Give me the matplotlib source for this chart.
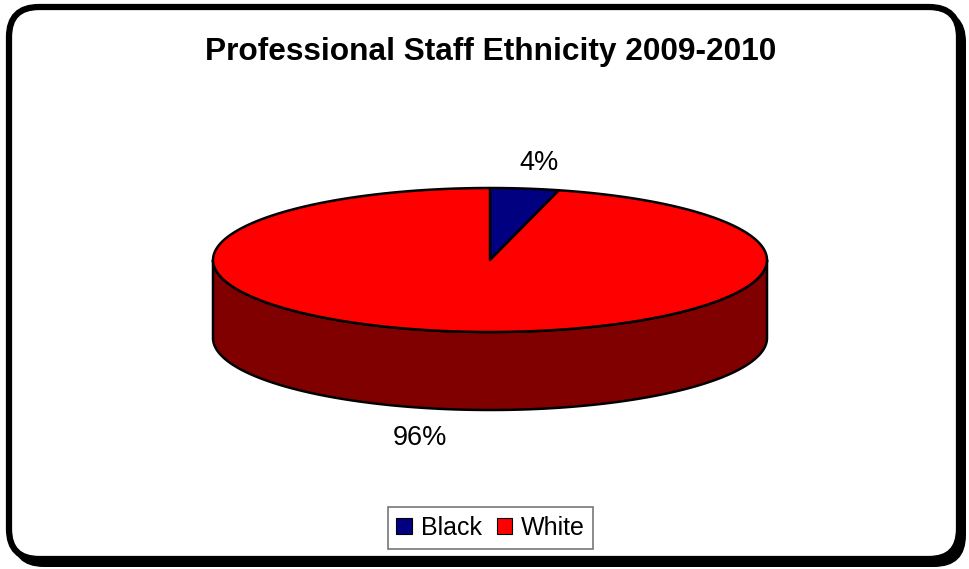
import numpy as np
import matplotlib
matplotlib.use('Agg')
import matplotlib.pyplot as plt
from matplotlib.patches import Polygon, FancyBboxPatch, Patch

plt.rcParams['font.family'] = ['Liberation Sans', 'DejaVu Sans']

# データ
categories = ['Black', 'White']
values = [4, 96]
top_colors = ['#000080', '#FF0000']
side_colors = ['#000040', '#800000']
title = 'Professional Staff Ethnicity 2009-2010'

fig = plt.figure(figsize=(9.69, 5.69), dpi=100)
ax = fig.add_axes([0, 0, 1, 1])
ax.set_xlim(0, 969)
ax.set_ylim(569, 0)
ax.axis('off')

# 外枠(影付きの角丸)
ax.add_patch(FancyBboxPatch((12, 10), 954, 557, boxstyle='round,pad=0,rounding_size=32',
                            fc='black', ec='black', lw=0, zorder=0))
ax.add_patch(FancyBboxPatch((9, 7), 950, 552, boxstyle='round,pad=0,rounding_size=30',
                            fc='white', ec='black', lw=4.5, zorder=1))

# 3D風の円グラフ
cx, cy = 490, 260
a, b = 277, 72
depth = 78


def ellipse_pts(p0, p1, n=200, dy=0):
    phi = np.radians(np.linspace(p0, p1, n))
    return np.column_stack([cx + a * np.sin(phi), cy - b * np.cos(phi) + dy])


total = sum(values)
bounds = np.concatenate([[0], np.cumsum(values) / total * 360])

# 側面(手前側 90°〜270° のみ見える)
for i in range(len(values)):
    s0, s1 = max(bounds[i], 90), min(bounds[i + 1], 270)
    if s1 <= s0:
        continue
    upper = ellipse_pts(s0, s1)
    lower = ellipse_pts(s1, s0, dy=depth)
    ax.add_patch(Polygon(np.vstack([upper, lower]), closed=True, fc=side_colors[i],
                         ec='black', lw=1.8, joinstyle='round', zorder=2))

# 上面
for i in range(len(values)):
    arc = ellipse_pts(bounds[i], bounds[i + 1])
    pts = np.vstack([[cx, cy], arc])
    ax.add_patch(Polygon(pts, closed=True, fc=top_colors[i], ec='black', lw=1.8,
                         joinstyle='round', zorder=3))

# ラベル
ax.text(539, 163, f'{values[0]}%', ha='center', va='center', fontsize=19.5, zorder=4)
ax.text(420, 438, f'{values[1]}%', ha='center', va='center', fontsize=19.5, zorder=4)

ax.text(491, 52, title, ha='center', va='center', fontsize=22.8, fontweight='bold', zorder=4)

handles = [Patch(fc=c, ec='black', lw=0.8) for c in top_colors]
leg = ax.legend(handles, categories, loc='center', bbox_to_anchor=(490.5 / 969, 1 - 528 / 569),
                ncol=2, frameon=True, fancybox=False, fontsize=18, handlelength=0.62,
                handleheight=0.62, handletextpad=0.35, columnspacing=0.6, borderpad=0.35,
                borderaxespad=0, edgecolor='#555555')
leg.get_frame().set_linewidth(1.2)
leg.set_zorder(5)

fig.savefig('out.png', dpi=100)
